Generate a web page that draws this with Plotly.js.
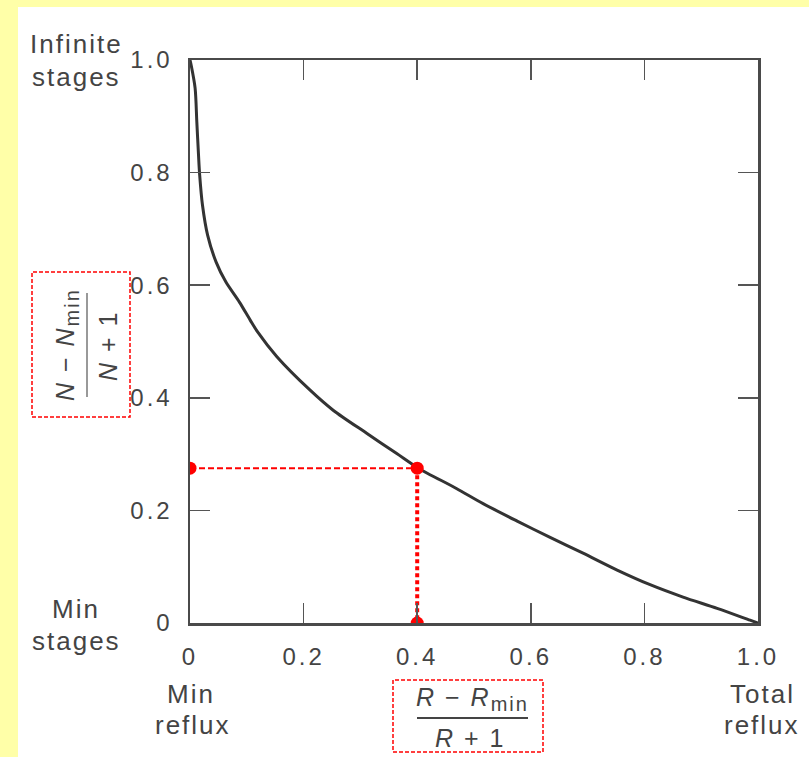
<!DOCTYPE html>
<html>
<head>
<meta charset="utf-8">
<script src="https://cdn.plot.ly/plotly-3.0.1.min.js"></script>
<style>
html,body{margin:0;padding:0;background:#FFFFA8;}
#chart .xtick text, #chart .ytick text {letter-spacing:3px;}
#chart .annotation-text {letter-spacing:2px;}
</style>
</head>
<body>
<div id="chart" style="width:809px;height:757px;"></div>
<script>
// Gilliland correlation curve
const curveX = [0, 0.002, 0.009, 0.012, 0.015, 0.017, 0.022, 0.031, 0.046, 0.063, 0.087, 0.106, 0.119, 0.153, 0.211, 0.252, 0.311, 0.364, 0.402, 0.469, 0.516, 0.576, 0.634, 0.692, 0.752, 0.81, 0.868, 0.928, 0.986, 1.0];
const curveY = [1.0, 0.991, 0.950, 0.890, 0.831, 0.796, 0.742, 0.689, 0.641, 0.606, 0.570, 0.538, 0.517, 0.473, 0.414, 0.378, 0.337, 0.301, 0.275, 0.239, 0.212, 0.181, 0.152, 0.124, 0.094, 0.068, 0.046, 0.026, 0.005, 0];
// example reading
const guideHX = [0, 0.40];
const guideHY = [0.275, 0.275];
const guideVX = [0.40, 0.40];
const guideVY = [0.275, 0];
const pointX = [0, 0.40, 0.40];
const pointY = [0.275, 0.275, 0];
const tickVals = [0, 0.2, 0.4, 0.6, 0.8, 1.0];
const tickText = ["0", "0.2", "0.4", "0.6", "0.8", "1.0"];

const W = 809, H = 757, L = 190, R = 51, T = 60, B = 134;
const pw = W - L - R, ph = H - T - B;
const px = v => (v - L) / pw;
const py = v => (H - B - v) / ph;

const txt = '#444';
const font = {family: 'Liberation Sans, Arial, sans-serif', size: 26, color: txt};
const tickFont = {family: 'Liberation Sans, Arial, sans-serif', size: 24, color: txt};
const fracFont = {family: 'Liberation Sans, Arial, sans-serif', size: 25, color: txt};

const traces = [
  {x: curveX, y: curveY, mode: 'lines', line: {color: '#333', width: 3, shape: 'spline', smoothing: 0.8}, hoverinfo: 'skip'},
  {x: guideHX, y: guideHY, mode: 'lines', line: {color: '#FF0000', width: 2, dash: '6px,3px'}, hoverinfo: 'skip'},
  {x: guideVX, y: guideVY, mode: 'lines', line: {color: '#FF0000', width: 4, dash: '4px,3px'}, hoverinfo: 'skip'},
  {x: pointX, y: pointY, mode: 'markers', marker: {color: '#FF0000', size: 13}, hoverinfo: 'skip'}
];

const axisCommon = {
  range: [0, 1], tickvals: tickVals, ticktext: tickText,
  ticks: 'inside', ticklen: 20, tickwidth: 1.5, tickcolor: '#555',
  showline: true, linecolor: '#4a4a4a', linewidth: 2.5, mirror: 'ticks',
  showgrid: false, zeroline: false, tickfont: tickFont, fixedrange: true
};

const ann = (x, y, text, extra) => Object.assign({xref: 'paper', yref: 'paper', x: px(x), y: py(y), text: text, showarrow: false, font: font, xanchor: 'center', yanchor: 'middle'}, extra || {});

const layout = {
  width: W, height: H,
  margin: {l: L, r: R, t: T, b: B, pad: 0},
  paper_bgcolor: '#FFFFA8', plot_bgcolor: '#FFFFFF',
  showlegend: false,
  xaxis: Object.assign({}, axisCommon, {ticklabelstandoff: 11}),
  yaxis: Object.assign({}, axisCommon, {ticklabelstandoff: 10}),
  shapes: [
    {type: 'rect', xref: 'paper', yref: 'paper', x0: px(18), x1: px(809), y0: py(757), y1: py(7), fillcolor: '#FFFFFF', line: {width: 0}, layer: 'below'},
    {type: 'rect', xref: 'paper', yref: 'paper', x0: px(32), x1: px(130), y0: py(417), y1: py(272), fillcolor: 'rgba(0,0,0,0)', line: {color: '#FF0000', width: 1.5, dash: '4px,2px'}},
    {type: 'line', xref: 'paper', yref: 'paper', x0: px(87), x1: px(87), y0: py(293), y1: py(397), line: {color: '#999', width: 2}},
    {type: 'rect', xref: 'paper', yref: 'paper', x0: px(393), x1: px(543), y0: py(752), y1: py(680), fillcolor: 'rgba(0,0,0,0)', line: {color: '#FF0000', width: 1.5, dash: '4px,2px'}},
    {type: 'line', xref: 'paper', yref: 'paper', x0: px(417), x1: px(528), y0: py(718), y1: py(718), line: {color: '#444', width: 2}}
  ],
  annotations: [
    ann(76, 44, 'Infinite'),
    ann(76, 77, 'stages'),
    ann(76, 609, 'Min'),
    ann(76, 641, 'stages'),
    ann(191, 694, 'Min'),
    ann(193, 725, 'reflux'),
    ann(762, 694, 'Total'),
    ann(762, 725, 'reflux'),
    ann(67, 345, '<i>N</i> − <i>N</i><sub><span style="font-size:20px">min</span></sub>', {textangle: -90, font: fracFont}),
    ann(108, 346, '<i>N</i> + 1', {textangle: -90, font: fracFont}),
    ann(472, 699, '<i>R</i> − <i>R</i><sub><span style="font-size:20px">min</span></sub>', {font: fracFont}),
    ann(470, 738, '<i>R</i> + 1', {font: fracFont})
  ]
};

Plotly.newPlot('chart', traces, layout, {displayModeBar: false, staticPlot: true});
</script>
</body>
</html>
